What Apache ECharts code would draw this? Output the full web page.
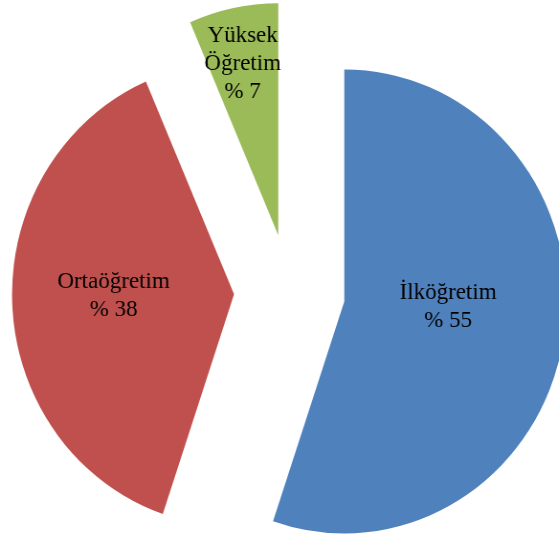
<!DOCTYPE html>
<html>
<head>
<meta charset="utf-8">
<script src="https://cdn.jsdelivr.net/npm/echarts@6/dist/echarts.min.js"></script>
<style>
  html, body { margin: 0; padding: 0; background: #fff; overflow: hidden; }
  /* kaynak görsel yatayda biraz sıkıştırılmış, aynısını yapıyoruz */
  #chart { width: 584px; height: 539px; transform: scaleX(0.957); transform-origin: 0 0; }
</style>
</head>
<body>
<div id="chart"></div>
<script>
  // eğitim düzeyleri (yüzde)
  const categories = ['İlköğretim', 'Ortaöğretim', 'Yüksek Öğretim']
  const values = [55.2, 38.3, 6.5]
  const colors = ['#4F81BD', '#C0504D', '#9BBB59']

  // etiket kaydırmaları (dilim ortasından)
  const labelShift = [[-9, -14], [-7, -4], [-13, -55]]

  const chart = echarts.init(document.getElementById('chart'))

  chart.setOption({
    animation: false,
    series: [
      {
        type: 'pie',
        center: [302.5, 292],
        radius: [0, 232],
        startAngle: 90,
        clockwise: true,
        selectedMode: 'multiple',
        selectedOffset: 58,
        emphasis: { disabled: true },
        label: {
          show: true,
          position: 'inside',
          color: '#000',
          fontFamily: 'Liberation Serif',
          fontSize: 24,
          lineHeight: 28,
          formatter: (p) => p.name.replace(' ', '\n') + '\n% ' + Math.round(p.value),
        },
        labelLine: { show: false },
        labelLayout: (params) => ({
          dx: labelShift[params.dataIndex][0],
          dy: labelShift[params.dataIndex][1],
        }),
        data: categories.map((name, i) => ({
          name,
          value: values[i],
          selected: true,
          itemStyle: { color: colors[i] },
          select: { itemStyle: { color: colors[i] } },
        })),
      },
    ],
  })
</script>
</body>
</html>
